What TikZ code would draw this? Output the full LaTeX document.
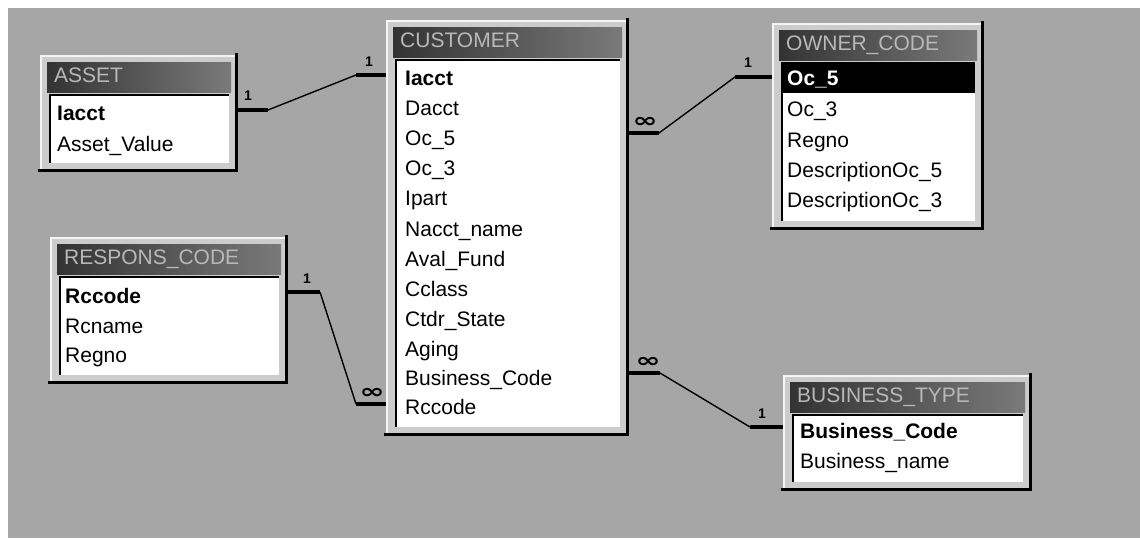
\documentclass[tikz,border=0pt]{standalone}
\usepackage{fontspec}
\setmainfont{Liberation Sans}
\newfontfamily\symfont{DejaVu Sans}
\usetikzlibrary{calc}
\definecolor{bggray}{HTML}{A6A6A6}
\definecolor{framegray}{HTML}{CCCCCC}
\definecolor{tbdark}{HTML}{333333}
\definecolor{tblight}{HTML}{7A7A7A}
\definecolor{titletext}{HTML}{B8B8B8}
\tikzset{
 tframe/.style={draw=none, fill=framegray, anchor=north west, inner sep=0pt, outer sep=0pt},
 field/.style={anchor=west, inner sep=0pt, font=\fontsize{21}{25}\selectfont, text height=15pt, text depth=4pt},
 keyfield/.style={field, font=\fontsize{21}{25}\selectfont\bfseries},
 ttext/.style={anchor=west, inner sep=0pt, text=titletext, font=\fontsize{21}{25}\selectfont, text height=15pt, text depth=4pt},
 stub/.style={line width=4.5pt, line cap=butt},
 rel/.style={line width=1.4pt},
 card/.style={font=\fontsize{14}{15}\selectfont\bfseries, inner sep=0pt},
 many/.style={font=\symfont\fontsize{20}{20}\selectfont\bfseries, inner sep=0pt},
}
\newcommand\erdframe[6]{%
 \node[tframe, minimum width=#4pt, minimum height=#5pt] (#1) at (#2,#3) {};
 \draw[white!92!gray, line width=2pt] ([shift={(1pt,0pt)}]#1.south west) |- ([shift={(0pt,-1pt)}]#1.north east);
 \draw[black, line width=3pt] ([shift={(-1.5pt,2pt)}]#1.north east) |- ([shift={(-2pt,1.5pt)}]#1.south west);
 \fill[left color=tbdark, right color=tblight] ([shift={(7pt,-7pt)}]#1.north west) rectangle ([shift={(-7pt,-37pt)}]#1.north east);
 \fill[white] ([shift={(9pt,-39pt)}]#1.north west) rectangle ([shift={(-9pt,9pt)}]#1.south east);
 \draw[black, line width=2.5pt] ([shift={(10pt,9pt)}]#1.south west) |- ([shift={(-9pt,-40pt)}]#1.north east);
 \node[ttext] (#1-t) at ([shift={(14pt,-22pt)}]#1.north west) {#6};
}
\begin{document}
\begin{tikzpicture}[x=1pt, y=-1pt]
\useasboundingbox (0,0) rectangle (1140,538);
\fill[white] (0,0) rectangle (1140,538);
\fill[bggray] (8,8) rectangle (1140,538);

% tables
\erdframe{asset}{40}{55}{198}{117}{ASSET}
\node[keyfield] (ar1) at (57,115) {Iacct};
\node[field] (ar2) at (57,146) {Asset\_Value};

\erdframe{cust}{386}{20}{243}{416}{CUSTOMER}
\node[keyfield] (cr1) at (405,80) {Iacct};
\node[field] (cr2) at (405,110) {Dacct};
\node[field] (cr3) at (405,140) {Oc\_5};
\node[field] (cr4) at (405,170) {Oc\_3};
\node[field] (cr5) at (405,200) {Ipart};
\node[field] (cr6) at (405,231) {Nacct\_name};
\node[field] (cr7) at (405,261) {Aval\_Fund};
\node[field] (cr8) at (405,291) {Cclass};
\node[field] (cr9) at (405,321) {Ctdr\_State};
\node[field] (cr10) at (405,351) {Aging};
\node[field] (cr11) at (405,380) {Business\_Code};
\node[field] (cr12) at (405,409) {Rccode};

\erdframe{owner}{772}{23}{212}{207}{OWNER\_CODE}
\fill[black] (781,62) rectangle (975,93);
\node[keyfield, text=white] (or1) at (787,80) {Oc\_5};
\node[field] (or2) at (787,111) {Oc\_3};
\node[field] (or3) at (787,142) {Regno};
\node[field] (or4) at (787,172) {DescriptionOc\_5};
\node[field] (or5) at (787,202) {DescriptionOc\_3};

\erdframe{resp}{50}{237}{238}{147}{RESPONS\_CODE}
\node[keyfield] (rr1) at (65,298) {Rccode};
\node[field] (rr2) at (65,328) {Rcname};
\node[field] (rr3) at (65,357) {Regno};

\erdframe{bus}{783}{375}{249}{116}{BUSINESS\_TYPE}
\node[keyfield] (br1) at (800,433) {Business\_Code};
\node[field] (br2) at (800,463) {Business\_name};

% ASSET - CUSTOMER
\path (asset.east |- ar1.west) ++(0,-5) coordinate (A1) ++(30,0) coordinate (A2);
\path (cust.west |- cr1.west) ++(0,-5) coordinate (B1) ++(-30,0) coordinate (B2);
\draw[rel] (A2) -- (B2);
\draw[stub] (A1) -- (A2);
\draw[stub] (B2) -- (B1);
\node[card] (l1) at ($(A1)+(10,-14)$) {1};
\node[card] (l2) at ($(B1)+(-17,-13)$) {1};

% CUSTOMER - OWNER_CODE
\path (cust.east |- cr3.west) ++(0,-7) coordinate (C1) ++(30,0) coordinate (C2);
\path (owner.west |- or1.west) ++(0,-3) coordinate (D1) ++(-37,0) coordinate (D2);
\draw[rel] (C2) -- (D2);
\draw[stub] (C1) -- (C2);
\draw[stub] (D2) -- (D1);
\node[many] (l3) at ($(C1)+(16,-11)$) {\scalebox{1.5}[1]{∞}};
\node[card] (l4) at ($(D1)+(-24,-14)$) {1};

% RESPONS_CODE - CUSTOMER
\path (resp.east |- rr1.west) ++(0,-6) coordinate (E1) ++(32,0) coordinate (E2);
\path (cust.west |- cr12.west) ++(0,-5) coordinate (F1) ++(-30,0) coordinate (F2);
\draw[rel] (E2) -- (F2);
\draw[stub] (E1) -- (E2);
\draw[stub] (F2) -- (F1);
\node[card] (l5) at ($(E1)+(19,-13)$) {1};
\node[many] (l6) at ($(F1)+(-14,-11)$) {\scalebox{1.5}[1]{∞}};

% CUSTOMER - BUSINESS_TYPE
\path (cust.east |- cr11.west) ++(0,-7) coordinate (G1) ++(31,0) coordinate (G2);
\path (bus.west |- br1.west) ++(0,-6) coordinate (H1) ++(-33,0) coordinate (H2);
\draw[rel] (G2) -- (H2);
\draw[stub] (G1) -- (G2);
\draw[stub] (H2) -- (H1);
\node[many] (l7) at ($(G1)+(19,-11)$) {\scalebox{1.5}[1]{∞}};
\node[card] (l8) at ($(H1)+(-21,-13)$) {1};
\end{tikzpicture}
\end{document}
